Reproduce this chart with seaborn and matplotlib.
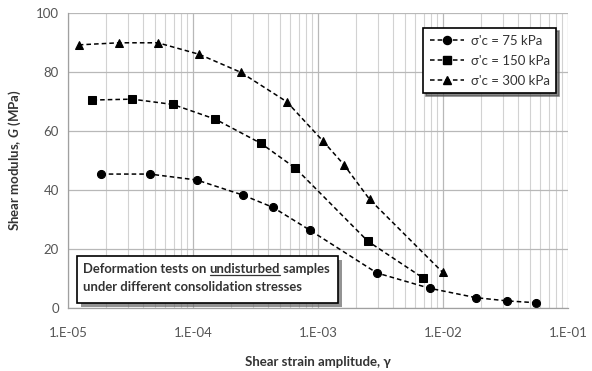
import numpy as np
import pandas as pd
import matplotlib
matplotlib.use("Agg")
import matplotlib.pyplot as plt
import seaborn as sns
from matplotlib.ticker import FixedLocator, LogLocator, NullFormatter, FuncFormatter
from matplotlib.lines import Line2D

# ---- data ----
strain_75 = [1.84e-5, 4.5e-5, 1.07e-4, 2.5e-4, 4.37e-4, 8.6e-4, 2.95e-3, 7.8e-3, 1.84e-2, 3.27e-2, 5.5e-2]
G_75 = [45.4, 45.4, 43.4, 38.3, 34.1, 26.4, 11.9, 6.7, 3.5, 2.4, 1.8]

strain_150 = [1.57e-5, 3.26e-5, 6.9e-5, 1.51e-4, 3.5e-4, 6.6e-4, 2.51e-3, 6.86e-3]
G_150 = [70.5, 70.8, 69.0, 64.0, 55.8, 47.4, 22.6, 10.3]

strain_300 = [1.22e-5, 2.55e-5, 5.24e-5, 1.12e-4, 2.41e-4, 5.63e-4, 1.09e-3, 1.61e-3, 2.59e-3, 9.93e-3]
G_300 = [89.2, 89.9, 89.9, 86.0, 79.9, 69.9, 56.7, 48.6, 36.8, 12.1]

series_labels = ["σ'c = 75 kPa", "σ'c = 150 kPa", "σ'c = 300 kPa"]
y_ticks = [0, 20, 40, 60, 80, 100]
x_ticks = [1e-5, 1e-4, 1e-3, 1e-2, 1e-1]
x_label = "Shear strain amplitude, γ"
y_label = "Shear modulus, $\\mathit{G}$ (MPa)"
note_line1 = ("Deformation tests on ", "undisturbed", " samples")
note_line2 = "under different consolidation stresses"

sns.set_style("white")
plt.rcParams['font.family'] = ['Lato', 'DejaVu Sans']
plt.rcParams['mathtext.fontset'] = 'custom'
plt.rcParams['mathtext.it'] = 'Lato:italic:bold'
plt.rcParams['mathtext.rm'] = 'Lato:bold'

fig = plt.figure(figsize=(5.92, 3.71), dpi=100)
ax = fig.add_axes([68/592, 1-308/371, (568-68)/592, (308-13)/371])

markers = ["o", "s", "^"]
msize = 5.8
dash = (0, (3, 2))
datasets = [(strain_75, G_75), (strain_150, G_150), (strain_300, G_300)]
for (xs, ys), lab, m in zip(datasets, series_labels, markers):
    df = pd.DataFrame({"x": xs, "y": ys})
    sns.lineplot(data=df, x="x", y="y", ax=ax, color="black", marker=m,
                 markersize=msize, markeredgecolor="black", linestyle=dash,
                 linewidth=1.1, label=lab, legend=False)

ax.set_xscale("log")
ax.set_xlim(1e-5, 1e-1)
ax.set_ylim(0, 100)
ax.xaxis.set_major_locator(FixedLocator(x_ticks))
ax.xaxis.set_minor_locator(LogLocator(base=10, subs=np.arange(2, 10)))
ax.xaxis.set_minor_formatter(NullFormatter())
ax.xaxis.set_major_formatter(FuncFormatter(lambda v, p: "1.E%+03d" % int(round(np.log10(v)))))
ax.yaxis.set_major_locator(FixedLocator(y_ticks))

ax.grid(True, which="major", axis="both", color="#b8b8b8", linewidth=0.9)
ax.grid(True, which="minor", axis="x", color="#d2d2d2", linewidth=0.8)
ax.set_axisbelow(True)

for s in ["top", "right"]:
    ax.spines[s].set_visible(False)
for s in ["left", "bottom"]:
    ax.spines[s].set_color("#a0a0a0")
    ax.spines[s].set_linewidth(0.9)

ax.tick_params(axis="both", which="major", length=3, color="#a0a0a0", labelcolor="#555555", labelsize=9.5)
ax.tick_params(axis="x", which="major", pad=11)
ax.tick_params(axis="x", which="minor", length=2, color="#b0b0b0")

ax.set_xlabel(x_label, fontsize=9.5, fontweight="bold", color="#333333", labelpad=12)
ax.set_ylabel(y_label, fontsize=9.5, fontweight="bold", color="#333333", labelpad=9)

# Legend
handles = [Line2D([0], [0], color="black", linestyle=dash, linewidth=1.1,
                  marker=m, markersize=msize) for m in markers]
leg = ax.legend(handles, series_labels, loc="upper right", bbox_to_anchor=(0.99, 0.97),
                frameon=True, fancybox=False, shadow={'color': '#555555', 'alpha': 0.7},
                edgecolor="black", fontsize=9.5, handlelength=2.6, labelspacing=0.6,
                borderpad=0.5, handletextpad=0.5)
leg.get_frame().set_linewidth(1.2)
for t in leg.get_texts():
    t.set_color("#333333")

# Note box
fig.patches.append(plt.Rectangle((77/592 + 0.006, 1-303/371 - 0.01), (338-77)/592, (303-256)/371,
                                 transform=fig.transFigure, facecolor="#666666", edgecolor="none",
                                 alpha=0.7, zorder=4))
fig.patches.append(plt.Rectangle((77/592, 1-303/371), (338-77)/592, (303-256)/371,
                                 transform=fig.transFigure, facecolor="white", edgecolor="black",
                                 linewidth=1.2, zorder=5))

fs = 9.4
tx = 83/592
ty1 = 1-269/371
ty2 = 1-287/371
renderer = fig.canvas.get_renderer()
t_a = fig.text(tx, ty1, note_line1[0], fontsize=fs, fontweight="bold", color="#333333", va="center", zorder=6)
bb = t_a.get_window_extent(renderer)
t_b = fig.text(bb.x1 / fig.bbox.width, ty1, note_line1[1], fontsize=fs, fontweight="bold", color="#333333", va="center", zorder=6)
bb2 = t_b.get_window_extent(renderer)
t_c = fig.text(bb2.x1 / fig.bbox.width, ty1, note_line1[2], fontsize=fs, fontweight="bold", color="#333333", va="center", zorder=6)
uy = (bb2.y0 + 0.5) / fig.bbox.height
fig.add_artist(Line2D([bb2.x0 / fig.bbox.width, bb2.x1 / fig.bbox.width], [uy, uy],
                      transform=fig.transFigure, color="#333333", linewidth=0.9, zorder=6))
fig.text(tx, ty2, note_line2, fontsize=fs, fontweight="bold", color="#333333", va="center", zorder=6)

fig.savefig("out.png", dpi=100)
